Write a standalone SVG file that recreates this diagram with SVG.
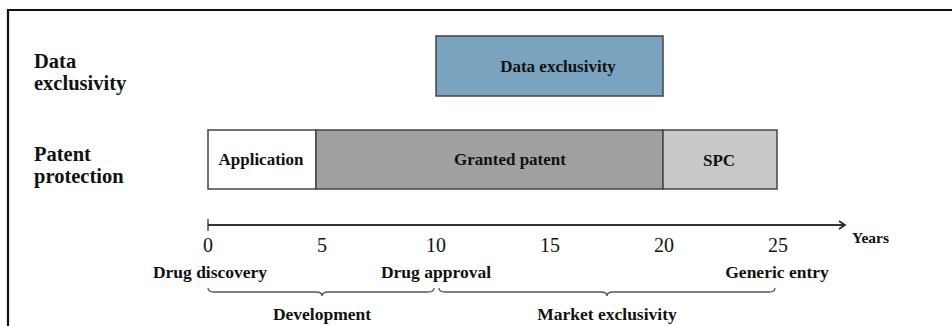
<svg xmlns="http://www.w3.org/2000/svg" width="952" height="326" viewBox="0 0 952 326">
<defs>
<style>
text{font-family:"Liberation Serif","DejaVu Serif",serif;fill:#111}
.lab{font-size:20.5px;font-weight:bold}
.b{font-weight:bold}
.bar{stroke:#444;stroke-width:1.5}
.num{font-size:20px;text-anchor:middle}
.low{font-size:17.5px;font-weight:bold;text-anchor:middle}
.brace{fill:none;stroke:#555;stroke-width:1.3}
</style>
<marker id="arr" markerWidth="10" markerHeight="10" refX="8" refY="5" orient="auto" markerUnits="userSpaceOnUse">
<path d="M2,1 L8,5 L2,9" fill="none" stroke="#222" stroke-width="1.6"/>
</marker>
</defs>
<rect width="952" height="326" fill="#fff"/>
<path d="M8,326 V10 H952" fill="none" stroke="#111" stroke-width="2.2"/>
<g id="row-labels">
<text class="lab" x="34" y="68">Data</text>
<text class="lab" x="34" y="90">exclusivity</text>
<text class="lab" x="34" y="161">Patent</text>
<text class="lab" x="34" y="183">protection</text>
</g>
<g id="data-exclusivity">
<rect class="bar" x="436" y="36" width="227" height="60" fill="#7aa3c0"/>
<text x="558" y="72" font-size="17" class="b" text-anchor="middle">Data exclusivity</text>
</g>
<g id="application">
<rect class="bar" x="208" y="130" width="108" height="59" fill="#fff"/>
<text x="261" y="165" font-size="17" class="b" text-anchor="middle">Application</text>
</g>
<g id="granted-patent">
<rect class="bar" x="316" y="130" width="347" height="59" fill="#a0a0a0"/>
<text x="510" y="165" font-size="17" class="b" text-anchor="middle">Granted patent</text>
</g>
<g id="spc">
<rect class="bar" x="663" y="130" width="114" height="59" fill="#c8c8c8"/>
<text x="719" y="166" font-size="17" class="b" text-anchor="middle">SPC</text>
</g>
<g id="connectors">
<line x1="208" y1="225" x2="845" y2="225" stroke="#333" stroke-width="1.8" marker-end="url(#arr)"/>
<line x1="208" y1="219" x2="208" y2="231" stroke="#333" stroke-width="1.3"/>
<path class="brace" d="M208,288 Q208,292 214,292 L316,292 Q322,292 322,296 Q322,292 328,292 L428,292 Q434,292 434,288"/>
<path class="brace" d="M439,288 Q439,292 445,292 L601,292 Q607,292 607,296 Q607,292 613,292 L769,292 Q775,292 775,288"/>
</g>
<g id="axis-labels">
<text class="num" x="208" y="252">0</text>
<text class="num" x="322" y="252">5</text>
<text class="num" x="436" y="252">10</text>
<text class="num" x="550" y="252">15</text>
<text class="num" x="664" y="252">20</text>
<text class="num" x="778" y="252">25</text>
<text x="852" y="243" font-size="15.5" class="b">Years</text>
</g>
<g id="events">
<text class="low" x="210" y="278">Drug discovery</text>
<text class="low" x="436" y="278">Drug approval</text>
<text class="low" x="777" y="278">Generic entry</text>
<text class="low" x="322" y="320">Development</text>
<text class="low" x="607" y="320">Market exclusivity</text>
</g>
</svg>
